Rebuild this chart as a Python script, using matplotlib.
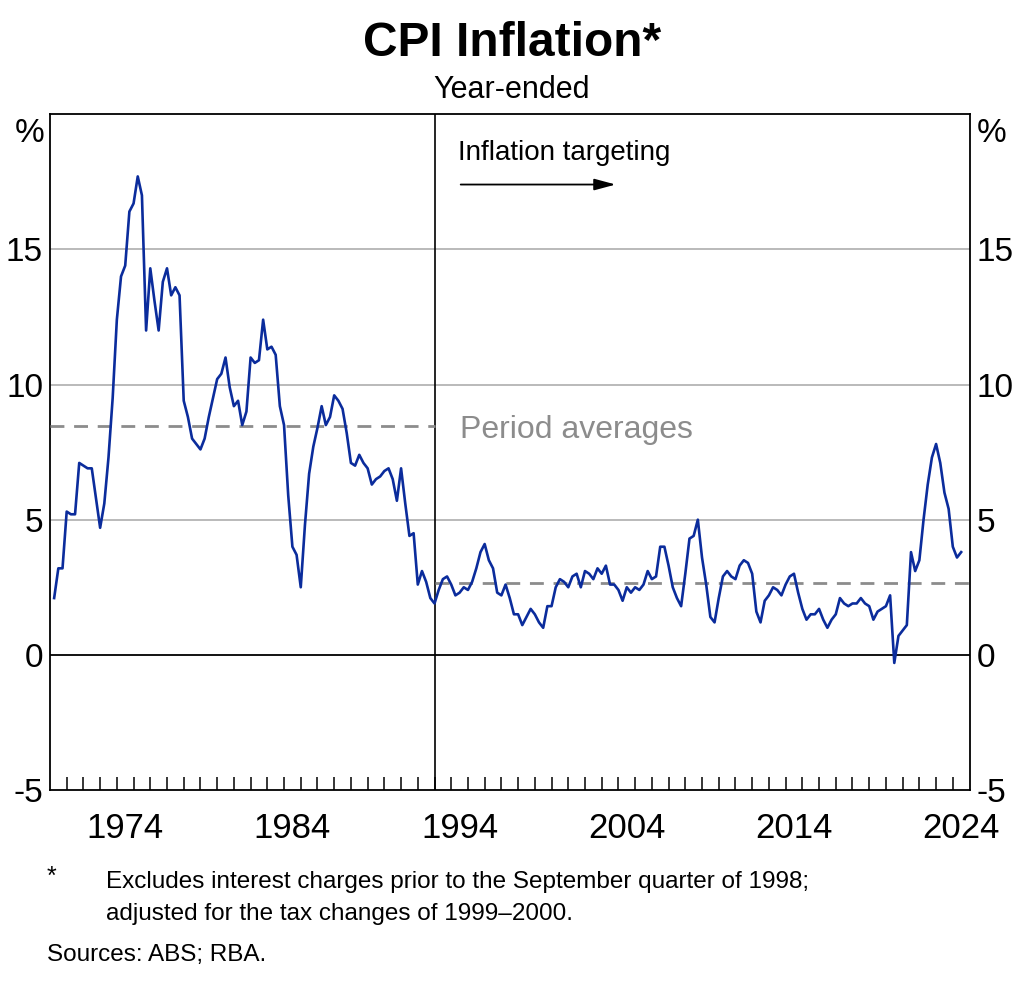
import matplotlib.pyplot as plt
import numpy as np

plt.rcParams['font.family'] = ['Liberation Sans', 'DejaVu Sans']

# Year-ended CPI inflation, quarterly from March 1970 to June 2024 (per cent)
cpi = [
    2.1, 3.2, 3.2, 5.3, 5.2, 5.2, 7.1, 7.0, 6.9, 6.9, 5.8, 4.7,
    5.6, 7.3, 9.5, 12.4, 14.0, 14.4, 16.4, 16.7, 17.7, 17.0, 12.0, 14.3,
    13.1, 12.0, 13.8, 14.3, 13.3, 13.6, 13.3, 9.4, 8.8, 8.0, 7.8, 7.6,
    8.0, 8.8, 9.5, 10.2, 10.4, 11.0, 9.9, 9.2, 9.4, 8.5, 9.0, 11.0,
    10.8, 10.9, 12.4, 11.3, 11.4, 11.1, 9.2, 8.5, 5.9, 4.0, 3.7, 2.5,
    4.8, 6.7, 7.7, 8.4, 9.2, 8.5, 8.8, 9.6, 9.4, 9.1, 8.2, 7.1,
    7.0, 7.4, 7.1, 6.9, 6.3, 6.5, 6.6, 6.8, 6.9, 6.5, 5.7, 6.9,
    5.6, 4.4, 4.5, 2.6, 3.1, 2.7, 2.1, 1.9, 2.4, 2.8, 2.9, 2.6,
    2.2, 2.3, 2.5, 2.4, 2.7, 3.2, 3.8, 4.1, 3.5, 3.2, 2.3, 2.2,
    2.6, 2.1, 1.5, 1.5, 1.1, 1.4, 1.7, 1.5, 1.2, 1.0, 1.8, 1.8,
    2.5, 2.8, 2.7, 2.5, 2.9, 3.0, 2.5, 3.1, 3.0, 2.8, 3.2, 3.0,
    3.3, 2.6, 2.6, 2.4, 2.0, 2.5, 2.3, 2.5, 2.4, 2.6, 3.1, 2.8,
    2.9, 4.0, 4.0, 3.3, 2.5, 2.1, 1.8, 3.0, 4.3, 4.4, 5.0, 3.6,
    2.6, 1.4, 1.2, 2.1, 2.9, 3.1, 2.9, 2.8, 3.3, 3.5, 3.4, 3.0,
    1.6, 1.2, 2.0, 2.2, 2.5, 2.4, 2.2, 2.6, 2.9, 3.0, 2.3, 1.7,
    1.3, 1.5, 1.5, 1.7, 1.3, 1.0, 1.3, 1.5, 2.1, 1.9, 1.8, 1.9,
    1.9, 2.1, 1.9, 1.8, 1.3, 1.6, 1.7, 1.8, 2.2, -0.3, 0.7, 0.9,
    1.1, 3.8, 3.1, 3.5, 5.0, 6.3, 7.3, 7.8, 7.1, 6.0, 5.4, 4.0,
    3.6, 3.8,
]
start_year = 1970
target_start = 1993
avg_pre = 8.45
avg_post = 2.65
label_years = [1974, 1984, 1994, 2004, 2014, 2024]
y_ticks = [-5, 0, 5, 10, 15]

# quarter-end positions
x = start_year + 0.25 * (np.arange(len(cpi)) + 1)

fig = plt.figure(figsize=(10.24, 9.85), dpi=100)
ax = fig.add_axes([0.0488, 0.198, 0.898, 0.686])

ax.set_xlim(1970, 2025)
ax.set_ylim(-5, 20)

for v in [5, 10, 15]:
    ax.axhline(v, color='#b4b4b4', lw=1.3, zorder=1)
ax.axhline(0, color='black', lw=1.3, zorder=2)
ax.axvline(target_start, color='black', lw=1.2, zorder=2)

ax.plot([1970, target_start], [avg_pre, avg_pre], color='#8c8c8c', lw=2,
        dashes=(5, 3.5), zorder=3)
ax.plot([target_start, 2025], [avg_post, avg_post], color='#8c8c8c', lw=2,
        dashes=(5, 3.5), zorder=3)

ax.plot(x, cpi, color='#0b2c9c', lw=1.9, zorder=4)

# axes furniture
for s in ax.spines.values():
    s.set_linewidth(1.3)
    s.set_color('black')

ax.set_xticks(np.arange(1971, 2025))
ax.set_xticklabels([])
ax.set_xticks([yr + 0.5 for yr in label_years], minor=True)
ax.set_xticklabels([str(yr) for yr in label_years], minor=True, fontsize=25)
ax.tick_params(axis='x', which='major', direction='in', length=9.5, width=1.1, top=False)
ax.tick_params(axis='x', which='minor', length=0, pad=16)

ax.set_yticks(y_ticks)
ax.set_yticklabels([str(v) for v in y_ticks], fontsize=24)
ax.tick_params(axis='y', length=0, labelleft=True, labelright=True, pad=5)

ax.text(-0.006, 0.995, '%', transform=ax.transAxes, ha='right', va='top', fontsize=24)
ax.text(1.008, 0.995, '%', transform=ax.transAxes, ha='left', va='top', fontsize=24)

ax.text(1994.4, 18.55, 'Inflation targeting', fontsize=20, va='center', ha='left')
ax.annotate('', xy=(2004.0, 17.4), xytext=(1994.4, 17.4),
            arrowprops=dict(arrowstyle='-|>,head_length=1.3,head_width=0.35',
                            color='black', lw=1.3))
ax.text(1994.5, 8.3, 'Period averages', fontsize=23, color='#8c8c8c',
        va='center', ha='left')

fig.text(0.5, 0.956, 'CPI Inflation*', ha='center', va='center',
         fontsize=34.5, fontweight='bold')
fig.text(0.5, 0.909, 'Year-ended', ha='center', va='center', fontsize=22)

fig.text(0.046, 0.110, '*', ha='left', va='center', fontsize=18)
fig.text(0.104, 0.105, 'Excludes interest charges prior to the September quarter of 1998;',
         ha='left', va='center', fontsize=17.5)
fig.text(0.104, 0.072, 'adjusted for the tax changes of 1999\u20132000.',
         ha='left', va='center', fontsize=17.5)
fig.text(0.046, 0.030, 'Sources: ABS; RBA.', ha='left', va='center', fontsize=17.5)

fig.savefig('out.png', dpi=100)
